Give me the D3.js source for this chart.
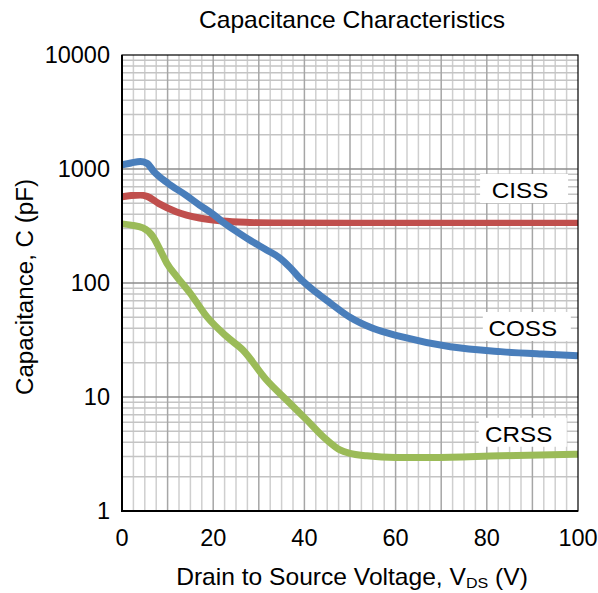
<!DOCTYPE html>
<html>
<head>
<meta charset="utf-8">
<script src="https://cdn.jsdelivr.net/npm/d3@7"></script>
<style>
  body { margin: 0; background: #fff; }
  text { font-family: "Liberation Sans", Arial, sans-serif; fill: #000; }
</style>
</head>
<body>
<div id="chart"></div>
<script>
	// red curve (labelled CISS)
	var ciss_v = [0, 2, 4, 5.5, 8, 12, 17, 22, 28, 35, 50, 70, 100];
	var ciss_c = [570, 585, 592, 575, 500, 420, 372, 350, 340, 336, 335, 335, 335];

	// blue curve (labelled COSS)
	var coss_v = [0, 2, 4, 5.5, 7, 10, 14, 17, 20, 22, 25, 28, 31.7, 34.6, 37, 39, 42.7, 45.6, 50, 55, 61, 72, 83, 92, 100];
	var coss_c = [1090, 1130, 1165, 1120, 950, 754, 590, 483, 400, 345, 285, 238, 195, 166, 135, 110, 82, 67, 50, 40, 34, 27.6, 25, 23.8, 23];

	// green curve (labelled CRSS)
	var crss_v = [0, 2, 4.6, 6.8, 8.5, 9.8, 12, 14.9, 18.6, 23, 26.5, 31.7, 36.1, 40.5, 44.9, 47.8, 50, 53.7, 60, 68, 83, 100];
	var crss_c = [330, 322, 304, 255, 190, 150, 114, 82, 50.7, 33.8, 25.8, 14.1, 9.4, 6.3, 4.2, 3.43, 3.2, 3.05, 2.95, 2.95, 3.05, 3.15];

	var x_ticks = [0, 20, 40, 60, 80, 100];
	var y_ticks = [1, 10, 100, 1000, 10000];
	var labels = ["CISS", "COSS", "CRSS"];
	var label_v = [87.3, 87.9, 87];
	var label_c = [557, 34.3, 4.05];
	var colors = ["#c0504d", "#4a7ebb", "#9bbb59"];

	var width = 598, height = 593;
	var margin = {left: 122, top: 55, right: 20, bottom: 82};

	var svg = d3.select("#chart")
		.append("svg")
		.attr("width", width)
		.attr("height", height);

	var x = d3.scaleLinear().domain([0, 100]).range([margin.left, width - margin.right]);
	var y = d3.scaleLog().domain([1, 10000]).range([height - margin.bottom, margin.top]);

	var defs = svg.append("defs");
	defs.append("filter")
		.attr("id", "soft")
		.append("feGaussianBlur")
		.attr("stdDeviation", 0.7);

	/* grid */
	var grid = svg.append("g");
	var minor_x = d3.range(0, 100.1, 2.5).filter(function(d){ return d % 10 != 0; });
	var major_x = d3.range(10, 100, 10);
	var minor_y = [];
	[1, 10, 100, 1000].forEach(function(dec){
		for (var k = 2; k < 10; k++) minor_y.push(dec * k);
	});
	var major_y = [10, 100, 1000];

	grid.selectAll(".mx").data(minor_x).enter().append("line")
		.attr("x1", x).attr("x2", x)
		.attr("y1", y(1)).attr("y2", y(10000))
		.attr("stroke", "#cfcfcf").attr("stroke-width", 1.5);
	grid.selectAll(".my").data(minor_y).enter().append("line")
		.attr("x1", x(0)).attr("x2", x(100))
		.attr("y1", y).attr("y2", y)
		.attr("stroke", "#c4c4c4").attr("stroke-width", 1.5);
	grid.selectAll(".Mx").data(major_x).enter().append("line")
		.attr("x1", x).attr("x2", x)
		.attr("y1", y(1)).attr("y2", y(10000))
		.attr("stroke", "#a6a6a6").attr("stroke-width", 1.5);
	grid.selectAll(".My").data(major_y).enter().append("line")
		.attr("x1", x(0)).attr("x2", x(100))
		.attr("y1", y).attr("y2", y)
		.attr("stroke", "#8c8c8c").attr("stroke-width", 1.5);

	/* curves */
	var line = d3.line()
		.x(function(d){ return x(d[0]); })
		.y(function(d){ return y(d[1]); })
		.curve(d3.curveMonotoneX);

	var series = [
		d3.zip(ciss_v, ciss_c),
		d3.zip(coss_v, coss_c),
		d3.zip(crss_v, crss_c)
	];

	svg.append("g").selectAll("path")
		.data(series)
		.enter().append("path")
		.attr("d", line)
		.attr("fill", "none")
		.attr("stroke", function(d, i){ return colors[i]; })
		.attr("stroke-width", 7)
		.attr("stroke-linejoin", "round")
		.attr("filter", "url(#soft)");

	/* curve labels with white boxes */
	var lab = svg.append("g").selectAll("g")
		.data(labels)
		.enter().append("g")
		.attr("transform", function(d, i){ return "translate(" + x(label_v[i]) + "," + y(label_c[i]) + ")"; });
	lab.append("rect")
		.attr("x", -40).attr("y", -24)
		.attr("width", 88).attr("height", 29)
		.attr("fill", "#fff");
	lab.append("text")
		.attr("text-anchor", "middle")
		.attr("transform", "scale(1.1,1)")
		.style("font-size", "22px")
		.text(function(d){ return d; });

	/* frame */
	svg.append("rect")
		.attr("x", x(0)).attr("y", y(10000))
		.attr("width", x(100) - x(0)).attr("height", y(1) - y(10000))
		.attr("fill", "none")
		.attr("stroke", "#000")
		.attr("stroke-width", 1.2);
	svg.append("path")
		.attr("d", "M" + x(0) + "," + y(10000) + "V" + y(1) + "H" + x(100))
		.attr("fill", "none")
		.attr("stroke", "#000")
		.attr("stroke-width", 2);

	/* tick labels */
	svg.append("g").selectAll("text")
		.data(y_ticks)
		.enter().append("text")
		.attr("x", x(0) - 12)
		.attr("y", function(d){ return y(d) + 8; })
		.attr("text-anchor", "end")
		.style("font-size", "23.5px")
		.text(function(d){ return d; });

	svg.append("g").selectAll("text")
		.data(x_ticks)
		.enter().append("text")
		.attr("x", x)
		.attr("y", y(1) + 35)
		.attr("text-anchor", "middle")
		.style("font-size", "23.5px")
		.text(function(d){ return d; });

	/* titles (reference text is a little wider than Arial, so stretch slightly) */
	svg.append("text")
		.attr("transform", "translate(352,28) scale(1.07,1)")
		.attr("text-anchor", "middle")
		.style("font-size", "23px")
		.text("Capacitance Characteristics");

	var xl = svg.append("text")
		.attr("transform", "translate(352,585) scale(1.07,1)")
		.attr("text-anchor", "middle")
		.style("font-size", "23px");
	xl.append("tspan").text("Drain to Source Voltage, V");
	xl.append("tspan").attr("dy", 3).style("font-size", "15px").text("DS");
	xl.append("tspan").attr("dy", -3).text(" (V)");

	svg.append("text")
		.attr("transform", "translate(33,287) rotate(-90) scale(1.05,1)")
		.attr("text-anchor", "middle")
		.style("font-size", "23px")
		.text("Capacitance, C (pF)");
</script>
</body>
</html>
